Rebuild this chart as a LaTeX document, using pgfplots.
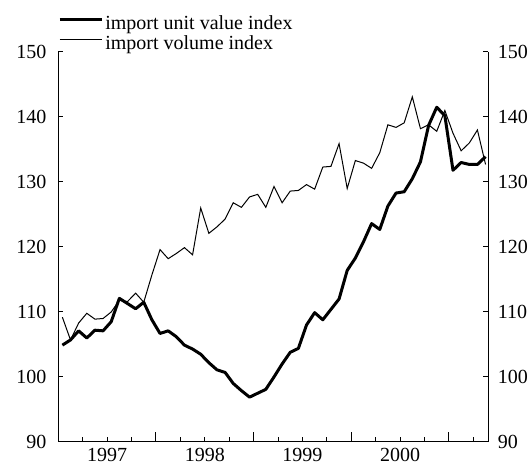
\documentclass[border=0pt]{standalone}
\usepackage{fontspec}
\setmainfont{Liberation Serif}
\usepackage{pgfplots}
\usepackage{pgfplotstable}
\pgfplotsset{compat=1.18}
\pgfplotstableread{
x uv vol
0.5 104.9 109.2
1.5 105.7 105.7
2.5 107.1 108.3
3.5 106.0 109.8
4.5 107.2 108.9
5.5 107.1 109.0
6.5 108.5 110.0
7.5 112.1 111.8
8.5 111.3 111.6
9.5 110.5 112.9
10.5 111.5 111.5
11.5 108.8 115.7
12.5 106.7 119.6
13.5 107.1 118.2
14.5 106.2 119.0
15.5 104.9 119.9
16.5 104.3 118.8
17.5 103.5 126.0
18.5 102.2 122.1
19.5 101.1 123.1
20.5 100.7 124.3
21.5 99.0 126.8
22.5 97.9 126.1
23.5 96.9 127.7
24.5 97.5 128.1
25.5 98.1 126.1
26.5 100.0 129.3
27.5 102.0 126.8
28.5 103.8 128.6
29.5 104.4 128.7
30.5 108.0 129.6
31.5 109.9 128.9
32.5 108.8 132.3
33.5 110.4 132.4
34.5 112.0 135.9
35.5 116.4 129.0
36.5 118.3 133.3
37.5 120.8 132.9
38.5 123.6 132.1
39.5 122.7 134.5
40.5 126.3 138.8
41.5 128.3 138.4
42.5 128.5 139.1
43.5 130.5 143.1
44.5 133.1 138.2
45.5 138.7 138.8
46.5 141.5 137.8
47.5 140.2 141.0
48.5 131.8 137.5
49.5 133.0 134.8
50.5 132.7 136.0
51.5 132.7 138.0
52.5 133.9 132.7
}\mydata
\pgfplotsset{
  common/.style={
    at={(58.3pt,23pt)}, anchor=south west,
    scale only axis, width=429.7pt, height=390pt,
    xmin=0, xmax=52.8, ymin=90, ymax=150,
    tick align=inside,
    axis line style={line width=1pt},
    every tick/.style={black, line width=1pt},
    /pgf/number format/assume math mode=true,
    tick label style={font=\fontsize{20}{24}\selectfont},
  }
}
\begin{document}
\fontsize{20}{24}\selectfont
\begin{tikzpicture}
\path[use as bounding box] (0,0) rectangle (531pt,465pt);
% main axis: data, x axis, legend
\begin{axis}[common,
  axis x line*=bottom, axis y line=none,
  xtick={12,24,36,48}, xticklabels={},
  minor xtick={3,6,...,51},
  major tick length=10pt, minor tick length=5pt,
  extra x ticks={6,18,30,42},
  extra x tick labels={1997,1998,1999,2000},
  extra x tick style={major tick length=0pt, xticklabel style={yshift=1pt}},
  legend style={at={(0,1)}, anchor=south west, yshift=-3pt, draw=none, fill=none,
    inner sep=0pt, outer sep=0pt, row sep=0pt,
    font=\fontsize{20}{24}\selectfont,
    nodes={inner ysep=0.5pt, text height=14pt, text depth=5pt}},
  legend cell align=left,
  legend image code/.code={\path (0pt,5pt) -- (42pt,5pt);\draw[#1] (0pt,5pt) -- (33pt,5pt);},
]
\addplot[black, line width=3pt, line join=round] table[x=x, y=uv] {\mydata};
\addlegendentry{import unit value index}
\addplot[black, line width=1pt, line join=miter] table[x=x, y=vol] {\mydata};
\addlegendentry{import volume index}
\end{axis}
% left y axis
\begin{axis}[common,
  axis x line=none, axis y line*=left,
  ytick={90,100,...,150}, major tick length=5pt,
  yticklabel style={xshift=-5pt},
]
\end{axis}
% right y axis
\begin{axis}[common,
  axis x line=none, axis y line*=right,
  ytick={90,100,...,150}, major tick length=5pt,
  yticklabel style={xshift=3pt},
]
\end{axis}
\end{tikzpicture}
\end{document}
